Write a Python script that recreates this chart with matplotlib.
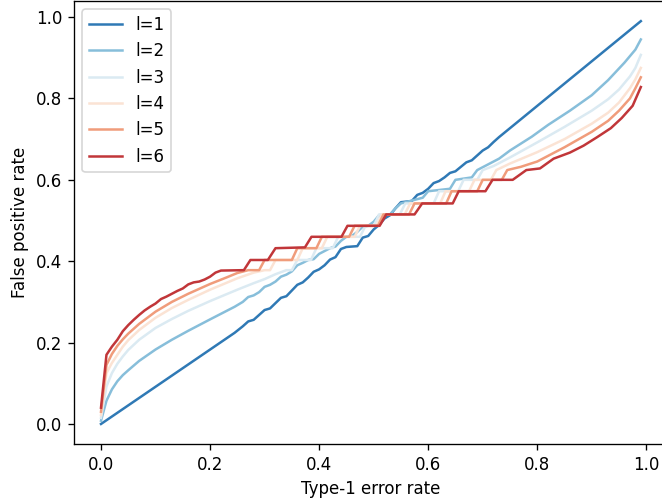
import numpy as np
import matplotlib
matplotlib.use("Agg")
import matplotlib.pyplot as plt

# points, one (x, y) list per curve
labels = ["l=1", "l=2", "l=3", "l=4", "l=5", "l=6"]

x1 = [0, 0.245, 0.26, 0.27, 0.28, 0.29, 0.30, 0.31, 0.32, 0.33, 0.34, 0.35, 0.36, 0.37,
      0.38, 0.39, 0.40, 0.41, 0.42, 0.43, 0.44, 0.45, 0.47, 0.48, 0.49, 0.50, 0.51, 0.52,
      0.53, 0.54, 0.55, 0.57, 0.58, 0.59, 0.60, 0.61, 0.62, 0.63, 0.64, 0.65, 0.66, 0.67,
      0.68, 0.69, 0.70, 0.71, 0.72, 0.73, 0.99]
y1 = [0, 0.224, 0.24, 0.252, 0.256, 0.268, 0.28, 0.284, 0.297, 0.31, 0.314, 0.328, 0.342, 0.348,
      0.36, 0.374, 0.38, 0.39, 0.404, 0.41, 0.43, 0.435, 0.437, 0.458, 0.462, 0.478, 0.489, 0.505,
      0.513, 0.53, 0.545, 0.548, 0.563, 0.568, 0.578, 0.592, 0.597, 0.606, 0.617, 0.621, 0.632, 0.643,
      0.648, 0.66, 0.672, 0.68, 0.693, 0.705, 0.99]

x2 = [0, 0.01, 0.02, 0.03, 0.04, 0.05, 0.07, 0.1, 0.13, 0.16, 0.2, 0.245, 0.26, 0.27, 0.28,
      0.29, 0.30, 0.31, 0.32, 0.33, 0.34, 0.35, 0.36, 0.37, 0.38, 0.39, 0.40, 0.41, 0.42, 0.43,
      0.44, 0.45, 0.46, 0.47, 0.48, 0.49, 0.50, 0.51, 0.53, 0.54, 0.55, 0.59, 0.60, 0.64, 0.65,
      0.68, 0.69, 0.71, 0.73, 0.75, 0.79, 0.82, 0.86, 0.90, 0.93, 0.96, 0.98, 0.99]
y2 = [0.008, 0.057, 0.085, 0.105, 0.12, 0.132, 0.155, 0.183, 0.207, 0.229, 0.257, 0.288, 0.30, 0.312, 0.316,
      0.324, 0.337, 0.342, 0.35, 0.362, 0.367, 0.375, 0.39, 0.396, 0.403, 0.405, 0.418, 0.425, 0.432, 0.436,
      0.45, 0.46, 0.462, 0.472, 0.485, 0.487, 0.497, 0.513, 0.515, 0.53, 0.542, 0.556, 0.572, 0.578, 0.6,
      0.606, 0.624, 0.638, 0.652, 0.672, 0.706, 0.735, 0.77, 0.808, 0.845, 0.888, 0.92, 0.945]

x3 = [0, 0.01, 0.02, 0.03, 0.04, 0.05, 0.07, 0.1, 0.13, 0.16, 0.2, 0.25, 0.28, 0.30, 0.32,
      0.34, 0.35, 0.36, 0.385, 0.395, 0.425, 0.435, 0.475, 0.485, 0.50, 0.51, 0.548, 0.558, 0.61,
      0.62, 0.655, 0.665, 0.69, 0.70, 0.72, 0.75, 0.8, 0.85, 0.9, 0.93, 0.95, 0.97, 0.98, 0.99]
y3 = [0.015, 0.092, 0.125, 0.148, 0.166, 0.182, 0.207, 0.236, 0.258, 0.278, 0.302, 0.33, 0.346, 0.356, 0.368,
      0.378, 0.378, 0.403, 0.403, 0.432, 0.432, 0.46, 0.46, 0.487, 0.487, 0.515, 0.515, 0.542, 0.542,
      0.572, 0.572, 0.6, 0.6, 0.624, 0.634, 0.655, 0.692, 0.73, 0.77, 0.798, 0.822, 0.854, 0.875, 0.907]

x4 = [0, 0.01, 0.02, 0.03, 0.04, 0.05, 0.07, 0.1, 0.13, 0.16, 0.2, 0.25, 0.28, 0.30, 0.31,
      0.32, 0.36, 0.37, 0.405, 0.415, 0.465, 0.475, 0.505, 0.515, 0.557, 0.567, 0.622, 0.632, 0.675,
      0.685, 0.715, 0.725, 0.75, 0.8, 0.85, 0.9, 0.93, 0.95, 0.97, 0.98, 0.99]
y4 = [0.022, 0.125, 0.15, 0.17, 0.19, 0.206, 0.231, 0.261, 0.285, 0.305, 0.33, 0.358, 0.372, 0.378, 0.378,
      0.403, 0.403, 0.432, 0.432, 0.46, 0.46, 0.487, 0.487, 0.515, 0.515, 0.542, 0.542, 0.572, 0.572,
      0.6, 0.6, 0.624, 0.64, 0.668, 0.70, 0.738, 0.765, 0.79, 0.825, 0.847, 0.875]

x5 = [0, 0.01, 0.02, 0.03, 0.04, 0.05, 0.07, 0.1, 0.13, 0.16, 0.2, 0.23, 0.25, 0.27, 0.29,
      0.30, 0.35, 0.36, 0.395, 0.405, 0.455, 0.465, 0.508, 0.518, 0.565, 0.575, 0.633, 0.643, 0.69,
      0.70, 0.735, 0.745, 0.77, 0.8, 0.85, 0.9, 0.93, 0.95, 0.97, 0.98, 0.99]
y5 = [0.03, 0.145, 0.172, 0.192, 0.208, 0.222, 0.246, 0.276, 0.30, 0.32, 0.344, 0.36, 0.371, 0.378, 0.378,
      0.403, 0.403, 0.432, 0.432, 0.46, 0.46, 0.487, 0.487, 0.515, 0.515, 0.542, 0.542, 0.572, 0.572,
      0.6, 0.6, 0.624, 0.632, 0.645, 0.68, 0.718, 0.745, 0.77, 0.80, 0.825, 0.852]

x6 = [0, 0.01, 0.02, 0.03, 0.04, 0.05, 0.06, 0.07, 0.08, 0.09, 0.10, 0.11, 0.12, 0.13, 0.14,
      0.15, 0.16, 0.17, 0.18, 0.19, 0.20, 0.21, 0.22, 0.262, 0.274, 0.306, 0.32, 0.374, 0.386,
      0.441, 0.452, 0.511, 0.523, 0.575, 0.589, 0.645, 0.656, 0.705, 0.718, 0.755, 0.78, 0.805,
      0.83, 0.86, 0.885, 0.91, 0.935, 0.955, 0.975, 0.99]
y6 = [0.04, 0.17, 0.19, 0.207, 0.228, 0.243, 0.256, 0.268, 0.279, 0.288, 0.296, 0.307, 0.313, 0.32, 0.327,
      0.333, 0.343, 0.348, 0.35, 0.355, 0.362, 0.372, 0.377, 0.378, 0.403, 0.403, 0.432, 0.434, 0.46,
      0.46, 0.487, 0.487, 0.515, 0.515, 0.542, 0.542, 0.572, 0.572, 0.6, 0.6, 0.624, 0.628,
      0.652, 0.667, 0.684, 0.705, 0.727, 0.752, 0.782, 0.828]

xs = [x1, x2, x3, x4, x5, x6]
ys = [y1, y2, y3, y4, y5, y6]

colors = plt.get_cmap("RdBu_r")(np.linspace(0, 1, 8)[1:-1])

# reference looks like a 120 dpi render, so draw at 120 dpi
fig = plt.figure(figsize=(662 / 120, 499 / 120), dpi=120)
ax = fig.add_axes([0.1118, 0.110, 0.897, 0.888])

for x, y, c, lab in zip(xs, ys, colors, labels):
    ax.plot(x, y, color=c, label=lab, linewidth=1.5)

ax.set_xlabel("Type-1 error rate")
ax.set_ylabel("False positive rate")
ax.legend(loc="upper left")
# right edge of the axes is cut off in the reference
ax.spines["right"].set_visible(False)

fig.savefig("out.png", dpi=120)
